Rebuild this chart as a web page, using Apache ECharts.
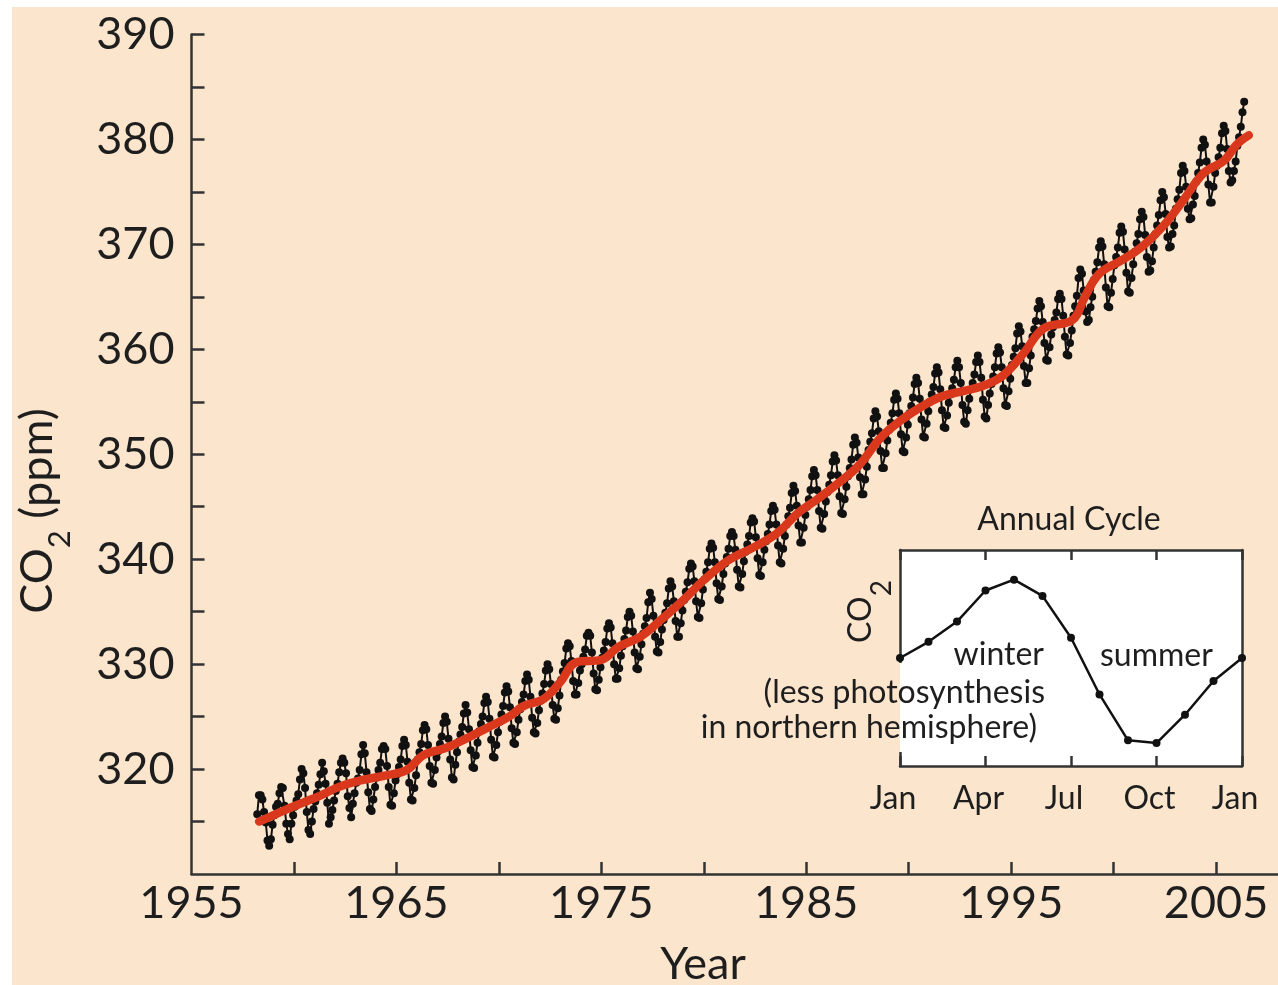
<!DOCTYPE html>
<html>
<head>
<meta charset="utf-8">
<script src="https://cdn.jsdelivr.net/npm/echarts@6/dist/echarts.min.js"></script>
<style>
  html, body { margin: 0; padding: 0; background: #ffffff; }
  #wrap { position: relative; width: 1278px; height: 985px; overflow: hidden; background: #ffffff; }
  #paper { position: absolute; left: 12px; top: 7px; right: 0; bottom: 0; background: #FCE5CD; }
  #chart { position: absolute; left: 0; top: 0; width: 1278px; height: 985px; }
</style>
</head>
<body>
<div id="wrap"><div id="paper"></div><div id="chart"></div></div>
<script>
// Monthly mean CO2 at Mauna Loa (ppm), starting March 1958.
const startYear = 1958;
const startMonth = 3;

const co2_1958_1959 = [
  315.7, 317.5, 317.5, 317.1, 315.9, 314.9, 313.2, 312.7, 313.3, 314.7,
  315.6, 316.4, 316.7, 317.7, 318.3, 318.2, 316.5, 314.8, 313.8, 313.3, 314.8, 315.6
];
const co2_1960s = [
  316.4, 317.0, 317.6, 319.0, 320.0, 319.6, 318.2, 315.9, 314.2, 313.8, 315.0, 316.2,
  316.9, 317.7, 318.5, 319.5, 320.6, 319.8, 318.6, 316.8, 314.8, 315.4, 316.1, 317.0,
  317.9, 318.6, 319.7, 320.6, 321.0, 320.6, 319.6, 317.4, 316.3, 315.4, 316.7, 317.7,
  318.7, 319.1, 319.9, 321.4, 322.3, 321.5, 319.7, 317.8, 316.2, 316.0, 317.1, 318.3,
  319.2, 319.9, 320.6, 321.9, 322.2, 321.9, 320.3, 318.3, 316.6, 316.5, 317.7, 318.9,
  319.5, 320.2, 320.9, 322.2, 322.8, 322.3, 320.7, 318.7, 317.1, 317.0, 318.2, 319.4,
  320.9, 321.6, 322.4, 323.7, 324.2, 323.8, 322.3, 320.3, 318.7, 318.6, 319.9, 321.1,
  321.7, 322.4, 323.1, 324.4, 325.0, 324.5, 322.9, 320.9, 319.2, 319.0, 320.4, 321.6,
  322.6, 323.3, 324.0, 325.3, 326.1, 325.4, 323.8, 321.8, 320.2, 320.1, 321.3, 322.5,
  323.6, 324.3, 325.0, 326.3, 326.9, 326.4, 324.8, 322.8, 321.2, 321.1, 322.3, 323.5
];
const co2_1970s = [
  324.5, 325.2, 326.0, 327.3, 327.9, 327.4, 325.9, 323.9, 322.5, 322.4, 323.5, 324.7,
  325.7, 326.4, 327.1, 328.4, 329.0, 328.5, 326.9, 324.9, 323.5, 323.4, 324.4, 325.6,
  326.5, 327.2, 328.1, 329.4, 330.0, 329.5, 328.1, 326.1, 324.8, 324.7, 325.8, 327.0,
  328.5, 329.3, 330.1, 331.5, 332.0, 331.7, 330.3, 328.4, 327.1, 327.1, 328.2, 329.4,
  330.0, 330.7, 331.4, 332.7, 333.0, 332.7, 331.1, 329.1, 327.6, 327.5, 328.5, 329.7,
  330.6, 331.3, 332.1, 333.4, 333.9, 333.5, 332.0, 330.0, 328.6, 328.6, 329.6, 330.8,
  331.7, 332.4, 333.2, 334.5, 335.0, 334.6, 333.1, 331.1, 329.6, 329.5, 330.7, 331.9,
  332.9, 333.6, 334.4, 335.9, 336.8, 336.2, 334.6, 332.6, 331.2, 331.1, 332.1, 333.3,
  334.2, 334.9, 335.8, 337.2, 337.9, 337.4, 336.0, 334.1, 332.6, 332.6, 333.9, 335.1,
  336.1, 336.9, 337.8, 339.1, 339.6, 339.3, 337.9, 336.0, 334.5, 334.4, 335.8, 337.1
];
const co2_1980s = [
  338.1, 338.8, 339.7, 341.0, 341.5, 341.1, 339.7, 337.7, 336.2, 336.1, 337.4, 338.6,
  339.6, 340.2, 341.0, 342.2, 342.6, 342.2, 340.9, 339.0, 337.4, 337.3, 338.6, 339.8,
  340.7, 341.4, 342.2, 343.5, 343.9, 343.6, 342.1, 340.1, 338.5, 338.4, 339.7, 340.9,
  341.7, 342.4, 343.3, 344.6, 345.1, 344.7, 343.3, 341.3, 339.7, 339.6, 341.0, 342.2,
  343.3, 344.1, 344.9, 346.3, 347.0, 346.5, 345.1, 343.2, 341.6, 341.6, 343.0, 344.2,
  345.0, 345.7, 346.6, 347.9, 348.5, 348.0, 346.6, 344.6, 343.0, 342.9, 344.3, 345.5,
  346.4, 347.1, 348.0, 349.3, 349.9, 349.4, 348.0, 346.0, 344.4, 344.3, 345.7, 346.9,
  347.9, 348.7, 349.5, 350.9, 351.6, 351.1, 349.7, 347.8, 346.2, 346.2, 347.6, 348.8,
  350.4, 351.2, 352.0, 353.4, 354.1, 353.6, 352.2, 350.3, 348.7, 348.7, 350.1, 351.3,
  352.3, 353.0, 353.9, 355.2, 355.8, 355.3, 353.9, 351.9, 350.3, 350.2, 351.6, 352.8
];
const co2_1990s = [
  353.9, 354.6, 355.4, 356.7, 357.3, 356.8, 355.3, 353.3, 351.7, 351.6, 352.9, 354.1,
  355.0, 355.7, 356.4, 357.7, 358.3, 357.8, 356.2, 354.2, 352.6, 352.5, 353.7, 354.9,
  355.7, 356.3, 357.1, 358.3, 358.9, 358.3, 356.8, 354.7, 353.1, 352.9, 354.2, 355.3,
  356.2, 356.8, 357.6, 358.8, 359.4, 358.8, 357.3, 355.2, 353.6, 353.4, 354.7, 355.8,
  356.7, 357.4, 358.3, 359.6, 360.2, 359.7, 358.3, 356.3, 354.7, 354.6, 356.0, 357.2,
  358.5, 359.3, 360.1, 361.5, 362.2, 361.7, 360.3, 358.4, 356.8, 356.8, 358.2, 359.4,
  361.2, 361.9, 362.7, 363.9, 364.6, 364.1, 362.6, 360.6, 359.0, 358.9, 360.2, 361.4,
  362.1, 362.8, 363.5, 364.8, 365.3, 364.8, 363.2, 361.2, 359.5, 359.4, 360.6, 361.8,
  363.2, 364.1, 365.1, 366.8, 367.6, 367.2, 365.6, 363.6, 362.6, 362.8, 364.0, 365.0,
  366.6, 367.4, 368.3, 369.7, 370.3, 369.8, 368.1, 365.9, 364.1, 364.0, 365.4, 366.7
];
const co2_2000s = [
  368.0, 368.8, 369.7, 371.1, 371.7, 371.2, 369.5, 367.3, 365.5, 365.4, 366.8, 368.1,
  369.3, 370.1, 371.0, 372.4, 373.1, 372.6, 370.9, 368.8, 367.4, 367.5, 368.4, 369.7,
  371.0, 371.8, 372.8, 374.2, 375.0, 374.5, 372.9, 370.7, 369.7, 369.8, 371.0, 371.8,
  373.4, 374.3, 375.2, 376.8, 377.5, 377.0, 375.5, 373.4, 372.4, 372.5, 373.8, 374.6,
  376.0, 376.8, 377.8, 379.2, 380.0, 379.5, 377.9, 375.7, 374.0, 374.0, 375.5, 376.8,
  377.5, 378.3, 379.2, 380.6, 381.3, 380.8, 379.1, 377.0, 375.9, 376.1, 377.0, 377.9,
  379.4, 380.2, 381.2, 382.6, 383.6
];

// Smoothed long-term trend (red curve): decimal year and ppm.
const trendYears = [
  1958.3, 1959.0, 1959.8, 1960.5, 1961.2, 1962.2, 1963.2, 1964.5, 1965.5, 1966.3,
  1967.4, 1968.4, 1969.4, 1970.5, 1971.2, 1972.2, 1973.0, 1973.8, 1975.0, 1975.8,
  1976.9, 1977.9, 1979.0, 1980.0, 1981.2, 1982.5, 1983.6, 1984.6, 1985.6, 1986.6,
  1987.6, 1988.6, 1989.6, 1990.6, 1991.6, 1992.6, 1993.6, 1994.6, 1995.6, 1996.6,
  1998.0, 1998.6, 1999.3, 2000.4, 2001.4, 2002.4, 2003.4, 2004.4, 2005.4, 2006.0, 2006.6
];
const trendValues = [
  315.0, 315.6, 316.3, 316.85, 317.4, 318.3, 318.9, 319.4, 319.9, 321.3,
  322.0, 322.9, 323.9, 325.0, 326.0, 326.7, 328.3, 330.2, 330.4, 331.6,
  332.6, 334.2, 336.1, 338.0, 339.9, 341.2, 342.5, 344.4, 345.8, 347.3,
  349.0, 351.5, 353.2, 354.5, 355.5, 356.0, 356.5, 357.5, 359.6, 362.0,
  362.8, 365.0, 367.2, 368.5, 369.8, 371.7, 374.2, 376.8, 378.0, 379.5, 380.4
];

// Main axis ticks and labels.
const yearTicks = [1960, 1965, 1970, 1975, 1980, 1985, 1990, 1995, 2000, 2005];
const yearLabels = [1955, 1965, 1975, 1985, 1995, 2005];
const ppmTicks = [315, 320, 325, 330, 335, 340, 345, 350, 355, 360, 365, 370, 375, 380, 385, 390];
const ppmLabels = [320, 330, 340, 350, 360, 370, 380, 390];

// Inset: average seasonal cycle (ppm departure from annual mean).
const cycleMonths = ['Jan', 'Feb', 'Mar', 'Apr', 'May', 'Jun', 'Jul', 'Aug', 'Sep', 'Oct', 'Nov', 'Dec', 'Jan'];
const cycleValues = [0.0, 0.6, 1.35, 2.5, 2.9, 2.3, 0.75, -1.35, -3.05, -3.15, -2.1, -0.85, 0.0];

// Build [decimalYear, ppm] pairs for the monthly record.
const monthly = [].concat(co2_1958_1959, co2_1960s, co2_1970s, co2_1980s, co2_1990s, co2_2000s);
const monthlyPoints = monthly.map(function (v, i) {
  const m = startMonth - 1 + i;
  const yr = startYear + Math.floor(m / 12);
  const mo = m % 12;
  return [yr + (mo + 0.5) / 12, v];
});
const trendPoints = trendYears.map(function (y, i) { return [y, trendValues[i]]; });

const FONT = 'Lato';
const INK = '#1e1e1e';
const AXIS = '#333333';
const PAPER = '#FCE5CD';
const plain = function (v) { return String(v); };

const chart = echarts.init(document.getElementById('chart'), null, { renderer: 'canvas' });

chart.setOption({
  animation: false,
  backgroundColor: 'transparent',
  textStyle: { fontFamily: FONT, color: INK },
  grid: [
    { left: 191.5, top: 34.5, width: 1086, height: 839.5, containLabel: false },
    { left: 900, top: 550, width: 342, height: 216, show: true, backgroundColor: '#ffffff', borderWidth: 0 }
  ],
  xAxis: [
    {
      type: 'value', gridIndex: 0, min: 1955, max: 2008,
      axisLine: { show: true, onZero: false, lineStyle: { color: AXIS, width: 2.5 } },
      axisTick: { show: true, inside: true, length: 12, customValues: yearTicks, lineStyle: { color: AXIS, width: 2.5 } },
      axisLabel: { customValues: yearLabels, formatter: plain, fontSize: 45, fontFamily: FONT, color: INK, margin: 7 },
      splitLine: { show: false }
    },
    {
      type: 'category', gridIndex: 1, data: cycleMonths, boundaryGap: false, position: 'bottom',
      axisLine: { show: true, onZero: false, lineStyle: { color: AXIS, width: 2.5 } },
      axisTick: { show: true, inside: true, length: 10, interval: 2, lineStyle: { color: AXIS, width: 2.5 } },
      axisLabel: { interval: 2, fontSize: 32, fontFamily: FONT, color: INK, margin: 17, padding: [0, 14, 0, 0] },
      splitLine: { show: false }
    },
    {
      type: 'category', gridIndex: 1, data: cycleMonths, boundaryGap: false, position: 'top',
      axisLine: { show: true, onZero: false, lineStyle: { color: AXIS, width: 2.5 } },
      axisTick: { show: true, inside: true, length: 10, interval: 2, lineStyle: { color: AXIS, width: 2.5 } },
      axisLabel: { show: false },
      splitLine: { show: false }
    }
  ],
  yAxis: [
    {
      type: 'value', gridIndex: 0, min: 310, max: 390,
      axisLine: { show: true, onZero: false, lineStyle: { color: AXIS, width: 2.5 } },
      axisTick: { show: true, inside: true, length: 13, customValues: ppmTicks, lineStyle: { color: AXIS, width: 2.5 } },
      axisLabel: { customValues: ppmLabels, formatter: plain, fontSize: 45, fontFamily: FONT, color: INK, margin: 17 },
      splitLine: { show: false }
    },
    {
      type: 'value', gridIndex: 1, min: -4, max: 4, position: 'left',
      axisLine: { show: true, onZero: false, lineStyle: { color: AXIS, width: 2.5 } },
      axisTick: { show: false }, axisLabel: { show: false }, splitLine: { show: false }
    },
    {
      type: 'value', gridIndex: 1, min: -4, max: 4, position: 'right',
      axisLine: { show: true, onZero: false, lineStyle: { color: AXIS, width: 2.5 } },
      axisTick: { show: false }, axisLabel: { show: false }, splitLine: { show: false }
    }
  ],
  series: [
    {
      name: 'Monthly CO2', type: 'line', xAxisIndex: 0, yAxisIndex: 0,
      data: monthlyPoints,
      symbol: 'circle', symbolSize: 8, showSymbol: true, showAllSymbol: true,
      itemStyle: { color: '#111111' },
      lineStyle: { color: '#111111', width: 2 },
      z: 2
    },
    {
      name: 'Trend', type: 'line', xAxisIndex: 0, yAxisIndex: 0,
      data: trendPoints, smooth: 0.4, symbol: 'none',
      lineStyle: { color: '#DA381D', width: 8.5, cap: 'round', join: 'round' },
      z: 3
    },
    {
      name: 'Annual Cycle', type: 'line', xAxisIndex: 1, yAxisIndex: 1,
      data: cycleValues,
      symbol: 'circle', symbolSize: 8,
      itemStyle: { color: '#111111' },
      lineStyle: { color: '#111111', width: 2.5 },
      z: 4
    }
  ],
  graphic: [
    // Gap in the inset frame behind the explanatory text.
    { type: 'rect', z: 50, shape: { x: 897, y: 663, width: 3, height: 89 }, style: { fill: PAPER } },
    { type: 'rect', z: 50, shape: { x: 900, y: 663, width: 3, height: 89 }, style: { fill: '#ffffff' } },
    // Axis titles.
    {
      type: 'text', z: 100, x: 37.6, y: 511, rotation: Math.PI / 2,
      style: {
        text: '{m|CO}{s|2}{m| (ppm)}', align: 'center', verticalAlign: 'middle', fill: INK,
        rich: {
          m: { fontSize: 45, fontFamily: FONT, lineHeight: 76, verticalAlign: 'middle', fill: INK },
          s: { fontSize: 31, fontFamily: FONT, lineHeight: 31, height: 31, verticalAlign: 'bottom', fill: INK }
        }
      }
    },
    {
      type: 'text', z: 100, x: 703, y: 964.6,
      style: { text: 'Year', fontSize: 45, fontFamily: FONT, fill: INK, align: 'center', verticalAlign: 'middle' }
    },
    // Inset titles and notes.
    {
      type: 'text', z: 100, x: 1069, y: 519.3,
      style: { text: 'Annual Cycle', fontSize: 32, fontFamily: FONT, fill: INK, align: 'center', verticalAlign: 'middle' }
    },
    {
      type: 'text', z: 100, x: 860.6, y: 611.5, rotation: Math.PI / 2,
      style: {
        text: '{m|CO}{s|2}', align: 'center', verticalAlign: 'middle', fill: INK,
        rich: {
          m: { fontSize: 32, fontFamily: FONT, lineHeight: 71, verticalAlign: 'middle', fill: INK },
          s: { fontSize: 28, fontFamily: FONT, lineHeight: 28, height: 28, verticalAlign: 'bottom', fill: INK }
        }
      }
    },
    {
      type: 'text', z: 100, x: 1044, y: 654.3,
      style: { text: 'winter', fontSize: 32, fontFamily: FONT, fill: INK, align: 'right', verticalAlign: 'middle' }
    },
    {
      type: 'text', z: 100, x: 1045, y: 692.6,
      style: { text: '(less photosynthesis', fontSize: 32, fontFamily: FONT, fill: INK, align: 'right', verticalAlign: 'middle' }
    },
    {
      type: 'text', z: 100, x: 1037, y: 727.6,
      style: { text: 'in northern hemisphere)', fontSize: 32, fontFamily: FONT, fill: INK, align: 'right', verticalAlign: 'middle' }
    },
    {
      type: 'text', z: 100, x: 1100, y: 655.6,
      style: { text: 'summer', fontSize: 32, fontFamily: FONT, fill: INK, align: 'left', verticalAlign: 'middle' }
    }
  ]
});
</script>
</body>
</html>
